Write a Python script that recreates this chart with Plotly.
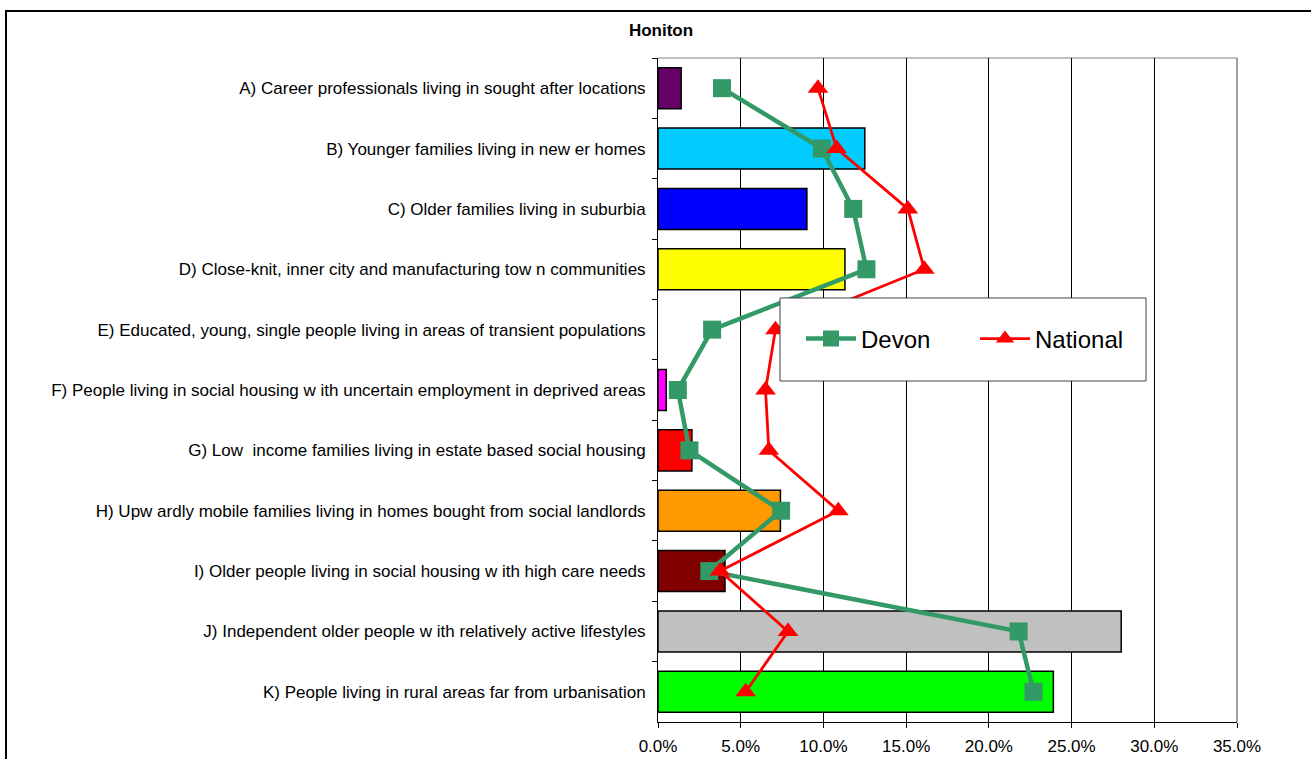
import plotly.graph_objects as go

categories = [
    "A) Career professionals living in sought after locations",
    "B) Younger families living in new er homes",
    "C) Older families living in suburbia",
    "D) Close-knit, inner city and manufacturing tow n communities",
    "E) Educated, young, single people living in areas of transient populations",
    "F) People living in social housing w ith uncertain employment in deprived areas",
    "G) Low  income families living in estate based social housing",
    "H) Upw ardly mobile families living in homes bought from social landlords",
    "I) Older people living in social housing w ith high care needs",
    "J) Independent older people w ith relatively active lifestyles",
    "K) People living in rural areas far from urbanisation",
]
honiton = [0.014, 0.125, 0.090, 0.113, 0.0, 0.005, 0.0205, 0.074, 0.0405, 0.280, 0.239]
devon = [0.0387, 0.099, 0.118, 0.126, 0.0327, 0.012, 0.019, 0.0744, 0.031, 0.218, 0.227]
national = [0.0967, 0.108, 0.151, 0.161, 0.071, 0.065, 0.067, 0.109, 0.0375, 0.0786, 0.053]
bar_colors = ["#660066", "#00CCFF", "#0000FF", "#FFFF00", "#FFFFFF", "#FF00FF",
              "#FF0000", "#FF9900", "#800000", "#C0C0C0", "#00FF00"]
x_ticks = [0, 0.05, 0.10, 0.15, 0.20, 0.25, 0.30, 0.35]

W, H = 1311, 759
L, R, T, B = 658, 1237, 58, 722
pw, ph = R - L, B - T

def px(x):
    return (x - L) / pw

def py(y):
    return 1 - (y - T) / ph

fig = go.Figure()
fig.add_trace(go.Bar(
    y=categories, x=honiton, orientation="h",
    marker=dict(color=bar_colors,
                line=dict(color="black", width=[1.5 if v > 0 else 0 for v in honiton])),
    width=0.68, showlegend=False, hoverinfo="skip",
))
fig.add_trace(go.Scatter(
    y=categories, x=devon, mode="lines+markers", name="Devon",
    line=dict(color="#339966", width=4.5),
    marker=dict(symbol="square", size=18, color="#339966"),
))
fig.add_trace(go.Scatter(
    y=categories, x=national, mode="lines+markers", name="National",
    line=dict(color="#FF0000", width=2.8),
    marker=dict(symbol="triangle-up", size=18, color="#FF0000"),
))

shapes = [
    # outer chart frame
    dict(type="rect", xref="paper", yref="paper", x0=px(6), x1=px(1330), y0=py(780), y1=py(11),
         line=dict(color="black", width=2), layer="below"),
    # plot border top/right grey
    dict(type="line", xref="paper", yref="paper", x0=0, x1=1, y0=1, y1=1,
         line=dict(color="#808080", width=1), layer="below"),
    dict(type="line", xref="paper", yref="paper", x0=1, x1=1, y0=0, y1=1,
         line=dict(color="#808080", width=1.5), layer="above"),
    # legend box
    dict(type="rect", xref="paper", yref="paper", x0=px(780), x1=px(1146), y0=py(381), y1=py(298),
         line=dict(color="#404040", width=1), fillcolor="white", layer="above"),
]

fig.update_layout(
    width=W, height=H,
    margin=dict(l=L, r=W - R, t=T, b=H - B, autoexpand=False),
    paper_bgcolor="white", plot_bgcolor="white",
    font=dict(family="Arial, Liberation Sans, sans-serif", size=16, color="black"),
    title=dict(text="<b>Honiton</b>", x=661 / W, xanchor="center", y=1 - 30 / H, yanchor="middle",
               xref="container", yref="container", font=dict(size=17)),
    showlegend=True,
    legend=dict(orientation="h", x=px(801), y=py(339), xanchor="left", yanchor="middle",
                bgcolor="rgba(0,0,0,0)", font=dict(size=24), itemwidth=50,
                entrywidth=109, entrywidthmode="pixels", traceorder="normal"),
    shapes=shapes,
    bargap=0.32,
)
fig.update_xaxes(
    range=[0, 0.35], tickvals=x_ticks, tickformat=".1%",
    showgrid=True, gridcolor="black", gridwidth=1,
    showline=True, linecolor="black", linewidth=1,
    ticks="outside", ticklen=5, tickcolor="black", zeroline=False,
    tickfont=dict(size=17), fixedrange=True, ticklabelstandoff=4, automargin=False,
)
fig.update_yaxes(
    categoryorder="array", categoryarray=categories, range=[10.5, -0.5],
    showgrid=False, showline=True, linecolor="black", linewidth=1,
    ticks="outside", ticklen=5, tickcolor="black", tickson="boundaries",
    tickfont=dict(size=17), fixedrange=True, ticklabelstandoff=8, automargin=False,
)

fig.write_html("out.html")
